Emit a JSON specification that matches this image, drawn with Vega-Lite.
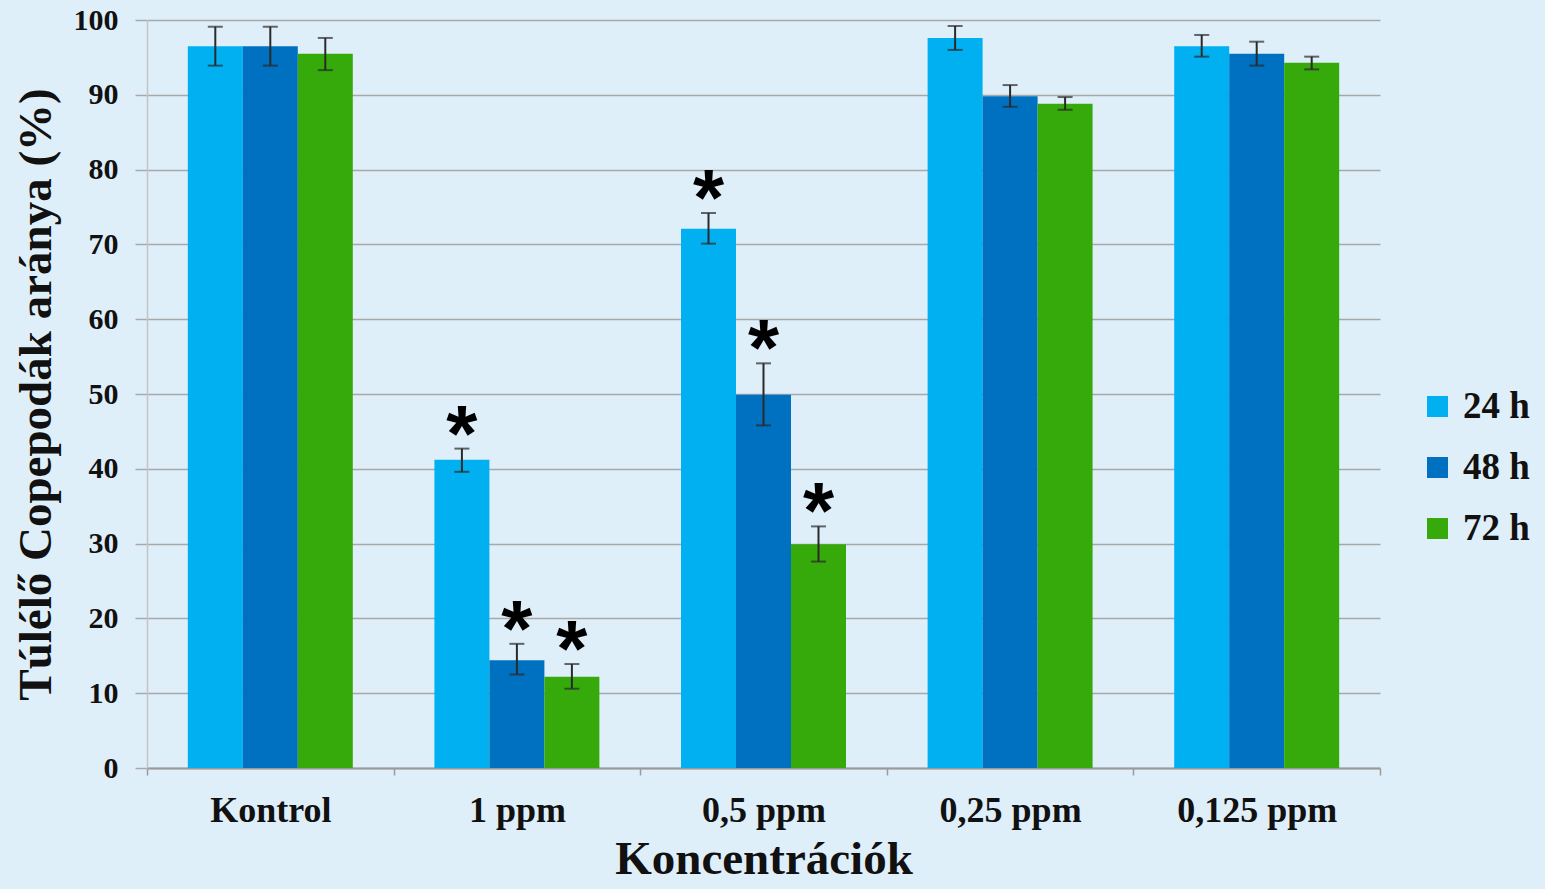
{
  "$schema": "https://vega.github.io/schema/vega-lite/v6.json",
  "width": 1233,
  "height": 748,
  "autosize": {"type": "none"},
  "padding": {"left": 147, "top": 20, "right": 165, "bottom": 121},
  "background": "#dfeffa",
  "config": {
    "view": {"stroke": null},
    "font": "Liberation Serif",
    "axis": {"labelFont": "Liberation Serif", "titleFont": "Liberation Serif", "labelFontWeight": "bold", "titleFontWeight": "bold", "labelColor": "#111", "titleColor": "#111"},
    "legend": {"labelFont": "Liberation Serif", "labelFontWeight": "bold"}
  },
  "data": {
    "values": [
      {"cat": "Kontrol", "time": "24 h", "value": 96.5, "lo": 93.9, "hi": 99.1, "sig": ""},
      {"cat": "Kontrol", "time": "48 h", "value": 96.5, "lo": 93.9, "hi": 99.1, "sig": ""},
      {"cat": "Kontrol", "time": "72 h", "value": 95.5, "lo": 93.3, "hi": 97.6, "sig": ""},
      {"cat": "1 ppm", "time": "24 h", "value": 41.2, "lo": 39.6, "hi": 42.7, "sig": "*"},
      {"cat": "1 ppm", "time": "48 h", "value": 14.4, "lo": 12.5, "hi": 16.6, "sig": "*"},
      {"cat": "1 ppm", "time": "72 h", "value": 12.2, "lo": 10.6, "hi": 13.9, "sig": "*"},
      {"cat": "0,5 ppm", "time": "24 h", "value": 72.1, "lo": 70.1, "hi": 74.2, "sig": "*"},
      {"cat": "0,5 ppm", "time": "48 h", "value": 49.9, "lo": 45.8, "hi": 54.1, "sig": "*"},
      {"cat": "0,5 ppm", "time": "72 h", "value": 29.9, "lo": 27.6, "hi": 32.3, "sig": "*"},
      {"cat": "0,25 ppm", "time": "24 h", "value": 97.6, "lo": 96.0, "hi": 99.2, "sig": ""},
      {"cat": "0,25 ppm", "time": "48 h", "value": 89.8, "lo": 88.4, "hi": 91.3, "sig": ""},
      {"cat": "0,25 ppm", "time": "72 h", "value": 88.8, "lo": 88.0, "hi": 89.7, "sig": ""},
      {"cat": "0,125 ppm", "time": "24 h", "value": 96.5, "lo": 95.1, "hi": 98.0, "sig": ""},
      {"cat": "0,125 ppm", "time": "48 h", "value": 95.5, "lo": 93.9, "hi": 97.1, "sig": ""},
      {"cat": "0,125 ppm", "time": "72 h", "value": 94.3, "lo": 93.4, "hi": 95.1, "sig": ""}
    ]
  },
  "encoding": {
    "x": {
      "field": "cat", "type": "nominal",
      "sort": ["Kontrol", "1 ppm", "0,5 ppm", "0,25 ppm", "0,125 ppm"],
      "scale": {"paddingInner": 0, "paddingOuter": 0},
      "axis": {
        "title": "Koncentrációk", "titleFontSize": 47, "titlePadding": 8,
        "labelAngle": 0, "labelFontSize": 36, "labelPadding": 18,
        "tickBand": "extent", "tickSize": 7, "tickColor": "#9a9a9a", "tickWidth": 1.5,
        "domainColor": "#9a9a9a", "domainWidth": 2, "grid": false
      }
    },
    "xOffset": {"field": "time", "type": "nominal", "scale": {"paddingInner": 0, "paddingOuter": 0.742}}
  },
  "layer": [
    {
      "mark": {"type": "bar"},
      "encoding": {
        "y": {
          "field": "value", "type": "quantitative",
          "scale": {"domain": [0, 100], "nice": false},
          "axis": {
            "title": "Túlélő Copepodák aránya (%)", "titleFontSize": 47, "titlePadding": 13,
            "values": [0, 10, 20, 30, 40, 50, 60, 70, 80, 90, 100],
            "labelFontSize": 30, "labelPadding": 17, "tickSize": 12,
            "tickColor": "#a8a8a8", "tickWidth": 1.5,
            "grid": true, "gridColor": "#a8a8a8", "gridWidth": 1.5,
            "domainColor": "#c4c4c4", "domainWidth": 1.5
          }
        },
        "color": {
          "field": "time", "type": "nominal",
          "scale": {"domain": ["24 h", "48 h", "72 h"], "range": ["#00b0f0", "#0070c0", "#36aa0a"]},
          "legend": {
            "title": null, "orient": "none", "legendX": 1272, "legendY": 368,
            "symbolType": "square", "symbolSize": 441, "symbolStrokeWidth": 0,
            "labelFontSize": 37, "labelColor": "#111", "labelOffset": 7, "rowPadding": 23, "padding": 0
          }
        }
      }
    },
    {
      "mark": {"type": "rule", "color": "#2a2a2a", "strokeWidth": 2},
      "encoding": {"y": {"field": "lo", "type": "quantitative"}, "y2": {"field": "hi"}}
    },
    {
      "mark": {"type": "tick", "color": "#2a2a2a", "thickness": 2, "size": 15},
      "encoding": {"y": {"field": "lo", "type": "quantitative"}}
    },
    {
      "mark": {"type": "tick", "color": "#2a2a2a", "thickness": 2, "size": 15},
      "encoding": {"y": {"field": "hi", "type": "quantitative"}}
    },
    {
      "mark": {"type": "text", "font": "Liberation Sans", "fontWeight": "bold", "fontSize": 80, "baseline": "alphabetic", "dy": 12, "color": "#000"},
      "encoding": {"y": {"field": "hi", "type": "quantitative"}, "text": {"field": "sig"}}
    }
  ]
}
